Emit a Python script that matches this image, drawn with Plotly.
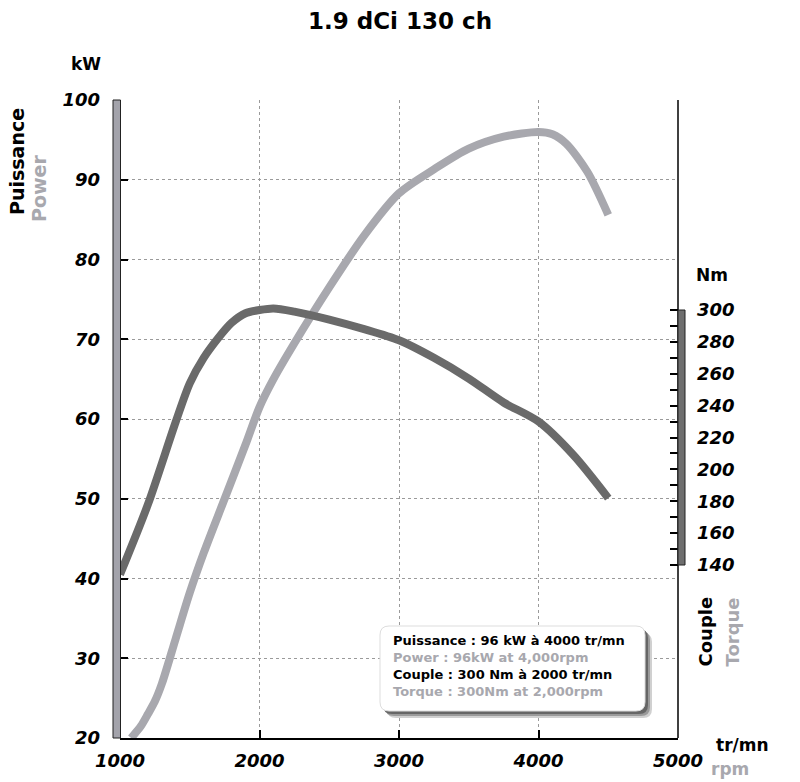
import plotly.graph_objects as go

# ---------------- data ----------------
rpm_power = [1080, 1150, 1200, 1250, 1300, 1400, 1500, 1600, 1750, 1900, 2000, 2100,
             2250, 2500, 2750, 3000, 3250, 3500, 3750, 4000, 4100, 4200, 4350, 4500]
power_kw = [20.0, 21.5, 23.0, 24.6, 26.8, 32.5, 38.2, 43.2, 50.0, 56.8, 61.5, 65.0,
            69.5, 76.5, 83.0, 88.3, 91.3, 93.9, 95.4, 96.0, 95.7, 94.5, 91.0, 85.6]

rpm_torque = [1000, 1200, 1400, 1500, 1600, 1700, 1800, 1900, 2000, 2100, 2250, 2500,
              2750, 3000, 3250, 3500, 3750, 4000, 4250, 4500]
torque_nm = [134, 178, 230, 254, 270, 282, 292, 298, 300, 301, 299, 294,
             288, 281, 270, 257, 242, 230, 209, 182]

x_ticks = [1000, 2000, 3000, 4000, 5000]
kw_ticks = [20, 30, 40, 50, 60, 70, 80, 90, 100]
nm_ticks = [140, 160, 180, 200, 220, 240, 260, 280, 300]
nm_minor = [150, 170, 190, 210, 230, 250, 270, 290]

title_text = "1.9 dCi 130 ch"
info_lines = [
    ("Puissance : 96 kW à 4000 tr/mn", "black"),
    ("Power : 96kW at 4,000rpm", "#a8a8ae"),
    ("Couple : 300 Nm à 2000 tr/mn", "black"),
    ("Torque : 300Nm at 2,000rpm", "#a8a8ae"),
]

# ---------------- layout helpers ----------------
W, H = 800, 782
L, R, T, B = 120, 678, 100, 738   # plot area in pixels


def px(x):
    return (x - L) / (R - L)


def py(y):
    return (B - y) / (B - T)


FONT = "DejaVu Sans"
LIGHT = "#a8a8ae"
DARK = "#6a6a6a"

fig = go.Figure()

fig.add_trace(go.Scatter(
    x=rpm_torque, y=torque_nm, yaxis="y2", mode="lines",
    line=dict(color=DARK, width=8, shape="spline", smoothing=0.8),
    hoverinfo="skip", showlegend=False))

fig.add_trace(go.Scatter(
    x=rpm_power, y=power_kw, mode="lines",
    line=dict(color=LIGHT, width=8, shape="spline", smoothing=0.8),
    hoverinfo="skip", showlegend=False))

tickfont = dict(family=FONT, size=18, color="black", weight="bold", style="italic")

fig.update_layout(
    width=W, height=H,
    margin=dict(l=L, r=W - R, t=T, b=H - B),
    paper_bgcolor="white", plot_bgcolor="white",
    showlegend=False,
    xaxis=dict(
        range=[1000, 5000], tickvals=x_ticks, ticktext=[str(v) for v in x_ticks],
        showgrid=True, gridcolor="#9a9a9a", griddash="3px,3px", gridwidth=1,
        showline=True, linecolor="black", linewidth=1.5,
        ticks="inside", ticklen=8, tickcolor="black", tickwidth=1.5,
        tickfont=tickfont, ticklabelstandoff=6, zeroline=False, fixedrange=True),
    yaxis=dict(
        range=[20, 100], tickvals=kw_ticks, ticktext=[str(v) for v in kw_ticks],
        showgrid=True, gridcolor="#9a9a9a", griddash="3px,3px", gridwidth=1,
        showline=False, ticks="inside", ticklen=8, tickcolor="black", tickwidth=2,
        tickfont=tickfont, ticklabelstandoff=19, zeroline=False, fixedrange=True),
    yaxis2=dict(
        range=[31.45, 431.8], overlaying="y", side="right",
        tickvals=nm_ticks, ticktext=[str(v) for v in nm_ticks],
        showgrid=False, showline=False, zeroline=False,
        ticks="inside", ticklen=8, tickcolor="black", tickwidth=2,
        minor=dict(tickmode="array", tickvals=nm_minor, ticks="inside",
                   ticklen=8, tickcolor="black", tickwidth=2, showgrid=False),
        tickfont=tickfont, ticklabelstandoff=18, fixedrange=True),
)

shapes = []
# right border of plot
shapes.append(dict(type="line", xref="paper", yref="paper",
                   x0=1, x1=1, y0=0, y1=1, line=dict(color="black", width=1.5)))
# left grey bar (kW axis)
shapes.append(dict(type="rect", xref="paper", yref="paper",
                   x0=px(113), x1=px(120.5), y0=py(738), y1=py(100),
                   fillcolor="#a3a3ab", line=dict(color="#222", width=1)))
# right dark bar (Nm axis)
shapes.append(dict(type="rect", xref="paper", yref="paper",
                   x0=px(678), x1=px(685), y0=py(565), y1=py(310),
                   fillcolor="#6e6e6e", line=dict(color="#222", width=1)))


def rounded(x0, y0, x1, y1, r):
    X = lambda v: px(v)
    Y = lambda v: py(v)
    return (f"M {X(x0 + r)},{Y(y0)} L {X(x1 - r)},{Y(y0)} Q {X(x1)},{Y(y0)} {X(x1)},{Y(y0 + r)} "
            f"L {X(x1)},{Y(y1 - r)} Q {X(x1)},{Y(y1)} {X(x1 - r)},{Y(y1)} "
            f"L {X(x0 + r)},{Y(y1)} Q {X(x0)},{Y(y1)} {X(x0)},{Y(y1 - r)} "
            f"L {X(x0)},{Y(y0 + r)} Q {X(x0)},{Y(y0)} {X(x0 + r)},{Y(y0)} Z")


# info box shadow layers + box
for off, col in [(7, "#d0d0d0"), (5, "#9a9a9a"), (3, "#666666")]:
    shapes.append(dict(type="path", xref="paper", yref="paper",
                       path=rounded(380 + off, 626 + off, 645 + off, 711 + off, 9),
                       fillcolor=col, line=dict(width=0), layer="above"))
shapes.append(dict(type="path", xref="paper", yref="paper",
                   path=rounded(380, 626, 645, 711, 9),
                   fillcolor="white", line=dict(color="#dddddd", width=1), layer="above"))
fig.update_layout(shapes=shapes)

ann = []


def label(text, x, y, size, color="black", angle=0, xa="center", ya="middle"):
    ann.append(dict(text=text, xref="paper", yref="paper", x=px(x), y=py(y),
                    xanchor=xa, yanchor=ya, showarrow=False, textangle=angle,
                    font=dict(family=FONT, size=size, color=color, weight="bold")))


label(title_text, 400, 21, 23)
label("kW", 86, 64, 17)
label("Puissance", 16.5, 161.5, 19, angle=-90)
label("Power", 38.5, 188.5, 19, color=LIGHT, angle=-90)
label("Nm", 712, 275, 17)
label("Couple", 705, 631.5, 18, angle=-90)
label("Torque", 731.5, 632, 18, color=LIGHT, angle=-90)
label("tr/mn", 742, 745, 17)
label("rpm", 730, 769, 17, color=LIGHT)

info_text = "<br>".join(f"<span style='color:{c}'>{t}</span>" for t, c in info_lines)
ann.append(dict(text=info_text, xref="paper", yref="paper", x=px(391), y=py(665.5),
                xanchor="left", yanchor="middle", align="left", showarrow=False,
                font=dict(family=FONT, size=13, color="black", weight="bold")))

fig.update_layout(annotations=ann)

fig.write_html("out.html", config={"displayModeBar": False},
               post_script="document.body.style.margin='0';document.body.style.overflow='hidden';")
